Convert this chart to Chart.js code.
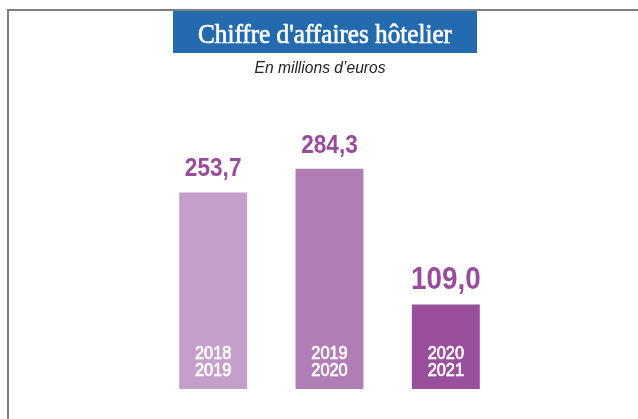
<!DOCTYPE html>
<html>
<head>
<meta charset="utf-8">
<script src="https://cdn.jsdelivr.net/npm/chart.js@4"></script>
<style>
html, body { margin: 0; padding: 0; background: #fff; }
#wrap { width: 638px; height: 419px; }
</style>
</head>
<body>
<div id="wrap"><canvas id="barChart" width="638" height="419"></canvas></div>
<script>
var periods = [["2018", "2019"], ["2019", "2020"], ["2020", "2021"]];
var revenue = [253.7, 284.3, 109.0];

var titleText = "Chiffre d'affaires hôtelier";
var subtitleText = "En millions d’euros";

var barColors = ["#c49fc9", "#b07eb4", "#9a4f9c"];
var valueFontSizes = [26, 26, 32];

// draw text squeezed horizontally to a given width
function drawFitted(ctx, text, x, y, font, width, color, stroke) {
    ctx.save();
    ctx.font = font;
    var w = ctx.measureText(text).width;
    ctx.translate(x, y);
    ctx.scale(width / w, 1);
    ctx.textAlign = 'center';
    ctx.textBaseline = 'alphabetic';
    ctx.fillStyle = color;
    ctx.fillText(text, 0, 0);
    if (stroke) {
        ctx.strokeStyle = color;
        ctx.lineWidth = stroke;
        ctx.strokeText(text, 0, 0);
    }
    ctx.restore();
}

function drawNarrow(ctx, text, x, y, font, squeeze, color, stroke) {
    ctx.save();
    ctx.font = font;
    ctx.translate(x, y);
    ctx.scale(squeeze, 1);
    ctx.textAlign = 'center';
    ctx.textBaseline = 'alphabetic';
    ctx.fillStyle = color;
    ctx.fillText(text, 0, 0);
    if (stroke) {
        ctx.strokeStyle = color;
        ctx.lineWidth = stroke;
        ctx.strokeText(text, 0, 0);
    }
    ctx.restore();
}

var decorations = {
    id: 'decorations',
    beforeDraw: function(chart) {
        var ctx = chart.ctx;
        ctx.save();
        ctx.fillStyle = '#fff';
        ctx.fillRect(0, 0, chart.width, chart.height);
        // frame
        ctx.fillStyle = '#7f7f7f';
        ctx.fillRect(7, 9, chart.width - 7, 2);
        ctx.fillRect(7, 9, 2, chart.height - 9);
        // title box
        ctx.fillStyle = '#236aaf';
        ctx.fillRect(173, 11, 304, 42);
        ctx.restore();
        drawFitted(ctx, titleText, 325, 43, '28px "Liberation Serif"', 254, '#fff', 0.7);
        drawFitted(ctx, subtitleText, 320, 73, 'italic 16px "Liberation Sans"', 131, '#222');
    },
    afterDatasetsDraw: function(chart) {
        var ctx = chart.ctx;
        var meta = chart.getDatasetMeta(0);
        meta.data.forEach(function(bar, i) {
            var label = revenue[i].toFixed(1).replace('.', ',');
            drawNarrow(ctx, label, bar.x, bar.y - 16, 'bold ' + valueFontSizes[i] + 'px "Liberation Sans"', 0.87, '#9a4c9c');
            drawNarrow(ctx, periods[i][0], bar.x, bar.base - 30, '19px "Liberation Sans"', 0.86, '#fff', 0.7);
            drawNarrow(ctx, periods[i][1], bar.x, bar.base - 13, '19px "Liberation Sans"', 0.86, '#fff', 0.7);
        });
    }
};

var config = {
    type: 'bar',
    data: {
        labels: periods.map(function(p) { return p.join(' '); }),
        datasets: [{
            data: revenue,
            backgroundColor: barColors,
            borderWidth: 0,
            barPercentage: 0.584,
            categoryPercentage: 1
        }]
    },
    options: {
        responsive: false,
        animation: false,
        layout: {
            padding: { left: 155, right: 134, top: 100, bottom: 30 }
        },
        scales: {
            x: { display: false },
            y: { display: false, min: 0, max: 373 }
        },
        plugins: {
            legend: { display: false },
            tooltip: { enabled: false }
        }
    },
    plugins: [decorations]
};

var ctx = document.getElementById("barChart");
var myBar = new Chart(ctx, config);
</script>
</body>
</html>
